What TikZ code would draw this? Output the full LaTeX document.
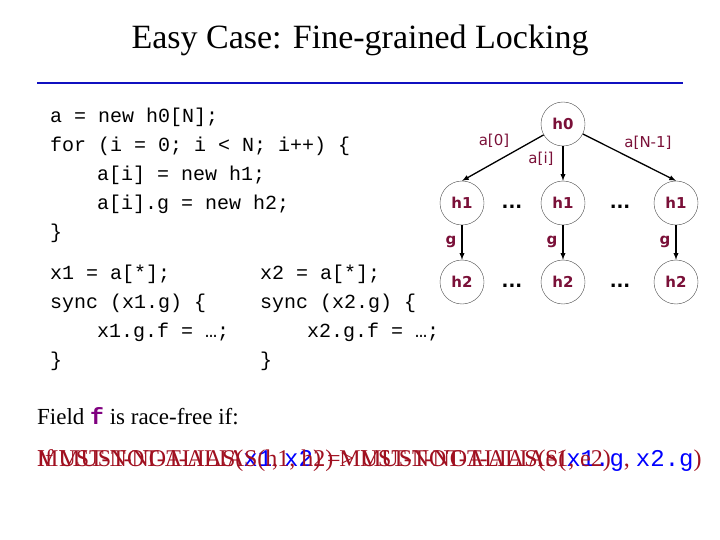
\documentclass[tikz,border=0pt]{standalone}
\usepackage{fontspec}
\setmainfont{Liberation Serif}
\setmonofont{Liberation Mono}
\setsansfont{DejaVu Sans}
\definecolor{lab}{HTML}{7A1038}
\definecolor{rule}{HTML}{1010C0}
\definecolor{dred}{HTML}{A01020}
\definecolor{purp}{HTML}{800080}
\begin{document}
\begin{tikzpicture}[x=1pt,y=-1pt,
  code/.style={anchor=base west,inner sep=0,font=\fontsize{20}{20}\ttfamily},
  hn/.style={circle,draw=black!70,thin,minimum size=44pt,inner sep=0,font=\fontsize{15}{15}\sffamily\bfseries,text=lab},
  lb/.style={font=\fontsize{15}{15}\sffamily,text=lab,inner sep=1pt},
  ed/.style={-latex,line width=1.3pt}]
\useasboundingbox (0,0) rectangle (720,540);
\node[font=\fontsize{34}{34}\selectfont] (title) at (360,40) {Easy Case: Fine-grained Locking};
\draw[rule,line width=2.5pt] (37,83) coordinate (r1) -- (683,83) coordinate (r2);
\node[code] (c1) at (50,123) {a = new h0[N];};
\node[code] (c2) at (50,152) {for (i = 0; i < N; i++) \{};
\node[code] (c3) at (97,181) {a[i] = new h1;};
\node[code] (c4) at (97,210) {a[i].g = new h2;};
\node[code] (c5) at (50,239) {\}};
\node[code] (d1) at (50,279) {x1 = a[*];};
\node[code] (d2) at (50,308) {sync (x1.g) \{};
\node[code] (d3) at (97,337) {x1.g.f = …;};
\node[code] (d4) at (50,366) {\}};
\node[code] (e1) at (260,279) {x2 = a[*];};
\node[code] (e2) at (260,308) {sync (x2.g) \{};
\node[code] (e3) at (307,337) {x2.g.f = …;};
\node[code] (e4) at (260,366) {\}};
\node[hn] (h0) at (563,124) {h0};
\node[hn] (a1) at (462,203) {h1};
\node[hn] (b1) at (563,203) {h1};
\node[hn] (c1n) at (676,203) {h1};
\node[hn] (a2) at (462,282) {h2};
\node[hn] (b2) at (563,282) {h2};
\node[hn] (c2n) at (676,282) {h2};
\draw[ed] (h0) -- (a1.north);
\draw[ed] (h0) -- (b1);
\draw[ed] (h0) -- (c1n.north);
\draw[ed] (a1) -- (a2);
\draw[ed] (b1) -- (b2);
\draw[ed] (c1n) -- (c2n);
\node[lb] (l0) at (494,141) {a[0]};
\node[lb] (li) at (541,159) {a[i]};
\node[lb] (ln) at (648,143) {a[N-1]};
\node[lb,font=\fontsize{15}{15}\sffamily\bfseries] (g1) at (451,242) {g};
\node[lb,font=\fontsize{15}{15}\sffamily\bfseries] (g2) at (552,242) {g};
\node[lb,font=\fontsize{15}{15}\sffamily\bfseries] (g3) at (665,242) {g};
\foreach \x/\y [count=\k] in {512/203,620/203,512/282,620/282}
  \node[font=\fontsize{18}{18}\sffamily\bfseries] (dots\k) at (\x,\y+4) {...};
\node[anchor=base west,inner sep=0,font=\fontsize{23}{23}\selectfont] (field) at (37,424) {Field \textcolor{purp}{\ttfamily\bfseries f} is race-free if:};
\node[anchor=base west,inner sep=0,font=\fontsize{24}{24}\selectfont,text=dred] (m1) at (37,466) {MUST-NOT-ALIAS(\textcolor{blue}{\ttfamily x1}, \textcolor{blue}{\ttfamily x2}) => MUST-NOT-ALIAS(\textcolor{blue}{\ttfamily x1.g}, \textcolor{blue}{\ttfamily x2.g})};
\node[anchor=base west,inner sep=0,font=\fontsize{24}{24}\selectfont,text=dred] (m2) at (37,466) {If MUST-NOT-ALIAS(h1, h2) MUST-NOT-ALIAS(e1, e2)};
\end{tikzpicture}
\end{document}
